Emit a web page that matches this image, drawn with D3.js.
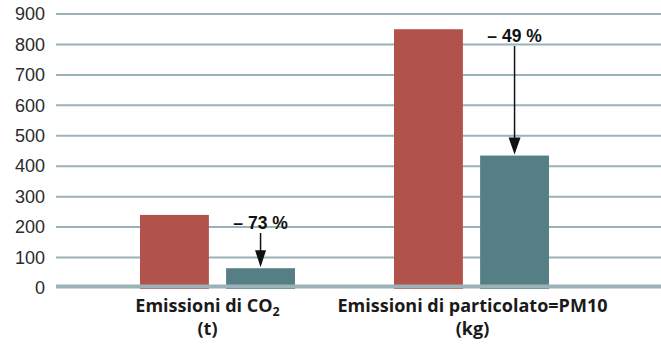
<!DOCTYPE html>
<html>
<head>
<meta charset="utf-8">
<script src="https://cdn.jsdelivr.net/npm/d3@7"></script>
<style>
  html, body { margin: 0; padding: 0; background: #fff; }
  svg { display: block; }
</style>
</head>
<body>
<svg id="chart" width="661" height="346"></svg>
<script>
// Emission categories (line 1, line 2 of each label)
const categories = ["co2", "pm10"];
const labelLine1 = ["Emissioni di CO", "Emissioni di particolato=PM10"];
const labelSub = ["2", ""];
const labelLine2 = ["(t)", "(kg)"];

// Series: before / after
const series = ["prima", "dopo"];
const valuesBefore = [240, 850];
const valuesAfter = [65, 435];
const reductions = ["– 73 %", "– 49 %"];

const yTicks = [0, 100, 200, 300, 400, 500, 600, 700, 800, 900];
const colors = { prima: "#b1534b", dopo: "#567f85" };

const svg = d3.select("#chart");
const plotLeft = 56, plotRight = 661;
const y0 = 288, yTop = 14;

const y = d3.scaleLinear().domain([0, 900]).range([y0, yTop]);

const x = d3.scaleBand().domain(categories).range([90.5, 598.5]).padding(0);
const xs = d3.scaleBand().domain(series).range([0, 155]).paddingInner(0.2);
const groupOffset = (x.bandwidth() - 155) / 2;

// Gridlines
const grid = svg.append("g");
grid.selectAll("line").data(yTicks.filter(d => d !== 0)).join("line")
  .attr("x1", plotLeft).attr("x2", plotRight)
  .attr("y1", d => y(d)).attr("y2", d => y(d))
  .attr("stroke", "#9bb2b8").attr("stroke-width", 2);

// Y axis labels
const yAxis = d3.axisLeft(y).tickValues(yTicks).tickSize(0).tickPadding(0);
const ya = svg.append("g").attr("transform", "translate(45,0)").call(yAxis);
ya.select(".domain").remove();
ya.selectAll("text")
  .attr("font-family", "'Liberation Sans', Arial, sans-serif")
  .attr("font-size", 18).attr("fill", "#2b2b2b");

// Bars
const rows = categories.map((c, i) => ({ cat: c, prima: valuesBefore[i], dopo: valuesAfter[i] }));
const groups = svg.append("g").selectAll("g").data(rows).join("g")
  .attr("transform", d => `translate(${x(d.cat) + groupOffset},0)`);
groups.selectAll("rect").data(d => series.map(s => ({ s, v: d[s] }))).join("rect")
  .attr("x", d => xs(d.s)).attr("width", xs.bandwidth())
  .attr("y", d => y(d.v)).attr("height", d => y0 + 1 - y(d.v))
  .attr("fill", d => colors[d.s]);

// Zero baseline
svg.append("line")
  .attr("x1", plotLeft).attr("x2", plotRight)
  .attr("y1", y(0) - 1.5).attr("y2", y(0) - 1.5)
  .attr("stroke", "#9bb2b8").attr("stroke-width", 4);

// Category labels
const labels = svg.append("g").selectAll("g").data(categories).join("g")
  .attr("transform", (c, i) => `translate(${x(c) + x.bandwidth() / 2 + (i === 0 ? -10 : 1)},0)`)
  .attr("font-family", "'Open Sans', sans-serif").attr("font-weight", 700)
  .attr("font-size", 18).attr("fill", "#1a1a1a").attr("text-anchor", "middle");
labels.append("text").attr("y", 312).each(function (c, i) {
  const t = d3.select(this);
  t.append("tspan").text(labelLine1[i]);
  if (labelSub[i]) t.append("tspan").attr("dy", 4).attr("font-size", 12.5).text(labelSub[i]);
});
labels.append("text").attr("y", 335).text((c, i) => labelLine2[i]);

// Reduction annotations with arrows
const ann = svg.append("g");
rows.forEach((d, i) => {
  const cx = x(d.cat) + groupOffset + xs("dopo") + xs.bandwidth() / 2;
  const textY = i === 0 ? 229 : 42;
  const lineTop = textY + 4;
  const tipY = y(d.dopo) - 1;
  const headH = 17;
  const headW = i === 0 ? 11 : 12;
  ann.append("text").attr("x", cx).attr("y", textY)
    .attr("text-anchor", "middle")
    .attr("font-family", "'Liberation Sans', Arial, sans-serif")
    .attr("font-weight", 700).attr("font-size", 17.5).attr("fill", "#111")
    .text(reductions[i]);
  ann.append("line").attr("x1", cx).attr("x2", cx)
    .attr("y1", lineTop).attr("y2", tipY - headH + 1)
    .attr("stroke", "#111").attr("stroke-width", 1.5);
  ann.append("path")
    .attr("d", `M${cx - headW / 2},${tipY - headH} L${cx + headW / 2},${tipY - headH} L${cx},${tipY} Z`)
    .attr("fill", "#111");
});
</script>
</body>
</html>
